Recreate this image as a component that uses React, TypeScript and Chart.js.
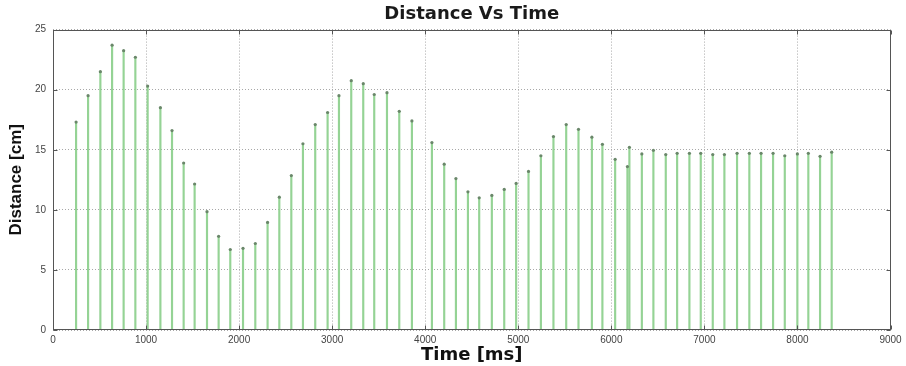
import React, { useEffect, useRef } from 'react';
import { Chart, registerables } from 'chart.js';
Chart.register(...registerables);

const chartTitle = 'Distance Vs Time';
const xAxisTitle = 'Time [ms]';
const yAxisTitle = 'Distance [cm]';

const timesMs = [
  248, 377, 509, 635, 759, 885, 1017, 1154, 1279, 1404,
  1522, 1655, 1780, 1905, 2042, 2174, 2306, 2432, 2561, 2686,
  2818, 2951, 3073, 3205, 3334, 3452, 3589, 3721, 3857, 4072,
  4204, 4330, 4459, 4580, 4716, 4849, 4977, 5110, 5243, 5378,
  5515, 5647, 5791, 5904, 6041, 6173, 6194, 6328, 6452, 6585,
  6707, 6839, 6961, 7090, 7215, 7351, 7483, 7609, 7738, 7864,
  7999, 8117, 8243, 8368,
];
const distanceCm = [
  17.3, 19.5, 21.5, 23.7, 23.25, 22.7, 20.3, 18.5, 16.6, 13.9,
  12.15, 9.85, 7.8, 6.7, 6.8, 7.2, 8.95, 11.05, 12.85, 15.5,
  17.1, 18.1, 19.5, 20.75, 20.5, 19.6, 19.75, 18.2, 17.4, 15.6,
  13.8, 12.6, 11.5, 11.0, 11.2, 11.7, 12.2, 13.2, 14.5, 16.1,
  17.1, 16.7, 16.05, 15.45, 14.2, 13.6, 15.2, 14.65, 14.95, 14.6,
  14.7, 14.7, 14.7, 14.6, 14.6, 14.7, 14.7, 14.7, 14.7, 14.5,
  14.65, 14.7, 14.45, 14.8,
];

const xMin = 0, xMax = 9000, xStep = 1000;
const yMin = 0, yMax = 25, yStep = 5;

const framePlugin = {
  id: 'matlabFrame',
  afterDraw(chart: any) {
    const { ctx, chartArea: a, scales } = chart;
    ctx.save();
    ctx.strokeStyle = '#555';
    ctx.lineWidth = 1;
    const L = Math.round(a.left) + 0.5, R = Math.round(a.right) - 0.5;
    const T = Math.round(a.top) + 0.5, B = Math.round(a.bottom) - 0.5;
    ctx.strokeRect(L, T, R - L, B - T);
    const tl = 4;
    ctx.beginPath();
    scales.x.ticks.forEach((t: any) => {
      const px = Math.round(scales.x.getPixelForValue(t.value)) + 0.5;
      ctx.moveTo(px, B); ctx.lineTo(px, B - tl);
      ctx.moveTo(px, T); ctx.lineTo(px, T + tl);
    });
    scales.y.ticks.forEach((t: any) => {
      const py = Math.round(scales.y.getPixelForValue(t.value)) + 0.5;
      ctx.moveTo(L, py); ctx.lineTo(L + tl, py);
      ctx.moveTo(R, py); ctx.lineTo(R - tl, py);
    });
    ctx.stroke();
    ctx.restore();
  },
};

export default function App() {
  const ref = useRef<HTMLCanvasElement>(null);
  useEffect(() => {
    document.body.style.margin = '0';
    const points = timesMs.map((t, i) => ({ x: t, y: distanceCm[i] }));
    const chart = new Chart(ref.current!, {
      type: 'bar',
      data: {
        datasets: [
          {
            type: 'line',
            data: points,
            showLine: false,
            pointRadius: 1.6,
            pointBackgroundColor: '#6a876a',
            pointBorderColor: '#6a876a',
            pointBorderWidth: 0,
            order: 0,
          } as any,
          {
            type: 'bar',
            data: points,
            backgroundColor: '#95d395',
            borderWidth: 0,
            barThickness: 1.5,
            order: 1,
          } as any,
        ],
      },
      options: {
        animation: false,
        responsive: false,
        events: [],
        layout: { padding: { top: 0, right: 15.5, bottom: 0, left: 0 } },
        plugins: {
          legend: { display: false },
          tooltip: { enabled: false },
          title: {
            display: true,
            text: chartTitle,
            fullSize: false,
            color: '#1a1a1a',
            font: { family: 'DejaVu Sans', size: 18, weight: 'bold', lineHeight: 1.2 },
            padding: { top: 4, bottom: 4 },
          },
        },
        scales: {
          x: {
            type: 'linear',
            min: xMin,
            max: xMax,
            offset: false,
            afterFit: (s: any) => { s.height = 36; },
            ticks: {
              stepSize: xStep,
              autoSkip: false,
              maxRotation: 0,
              padding: 4,
              color: '#444',
              font: { family: 'Liberation Sans', size: 10 },
              callback: (v: any) => String(v),
            },
            grid: { offset: false, drawTicks: false, color: '#a8a8a8', lineWidth: 1 },
            border: { display: false, dash: [1, 2] },
            title: {
              display: true,
              text: xAxisTitle,
              color: '#111',
              font: { family: 'DejaVu Sans', size: 18, weight: 'bold', lineHeight: 1 },
              padding: { top: 0, bottom: 2 },
            },
          },
          y: {
            type: 'linear',
            min: yMin,
            max: yMax,
            afterFit: (s: any) => { s.width = 53; },
            ticks: {
              stepSize: yStep,
              padding: 7,
              color: '#444',
              font: { family: 'Liberation Sans', size: 10 },
              callback: (v: any) => String(v),
            },
            grid: { drawTicks: false, color: '#a8a8a8', lineWidth: 1 },
            border: { display: false, dash: [1, 2] },
            title: {
              display: true,
              text: yAxisTitle,
              color: '#111',
              font: { family: 'Liberation Sans', size: 17, weight: 'bold', lineHeight: 1 },
              padding: { top: 8, bottom: 0 },
            },
          },
        },
      },
      plugins: [framePlugin],
    } as any);
    return () => chart.destroy();
  }, []);
  return (
    <div style={{ width: 906, height: 366, background: '#fff' }}>
      <canvas ref={ref} width={906} height={366} style={{ display: 'block' }} />
    </div>
  );
}
